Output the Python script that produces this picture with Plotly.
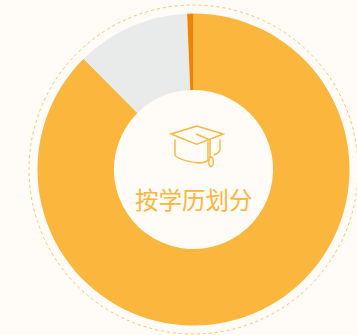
import plotly.graph_objects as go

W, H = 357, 335
categories = ["A", "B", "C"]
values = [87.55, 11.8, 0.65]
colors = ["#FAB63D", "#E9EBEB", "#F08300"]
center_label = "按学历划分"
BG = "#FFFBF6"
CX, CY, R = 193.5, 169.5, 156

fig = go.Figure(go.Pie(
    labels=categories, values=values, hole=0.51, sort=False, direction="clockwise",
    rotation=0, textinfo="none", hoverinfo="label+percent", showlegend=False,
    marker=dict(colors=colors, line=dict(width=0)),
    domain=dict(x=[(CX - R) / W, (CX + R) / W], y=[1 - (CY + R) / H, 1 - (CY - R) / H]),
))

icon = dict(type="path", xref="x", yref="y", line=dict(color="#FAB63D", width=1.4))
paths = [
    "M171,134 L196.7,126 L223.3,134 L196.7,144.3 Z",
    "M175,139.5 L175,155 Q178,160 198,163 Q205,163 208,160 L208,141.5",
    "M196,134 L210,140 L210,158",
    "M211,157 C214,157 214,166.5 211,166.5 C208,166.5 208,157 211,157 Z",
    "M220,139.5 L220,150 Q219,153 214,155",
]
shapes = [dict(icon, path=p) for p in paths]
shapes.append(dict(type="circle", xref="x", yref="y", x0=CX - 164.5, x1=CX + 164.5,
                   y0=CY - 164.5, y1=CY + 164.5,
                   line=dict(color="#FBC468", width=1, dash="dot")))

fig.update_layout(
    width=W, height=H, margin=dict(l=0, r=0, t=0, b=0),
    paper_bgcolor=BG, plot_bgcolor="rgba(0,0,0,0)",
    xaxis=dict(range=[0, W], visible=False, fixedrange=True),
    yaxis=dict(range=[H, 0], visible=False, fixedrange=True),
    shapes=shapes,
    annotations=[dict(x=194, y=199, xref="x", yref="y", text=center_label, showarrow=False,
                      font=dict(family="Noto Sans CJK SC", size=23.5, color="#FAB63D"))],
)
fig.write_html("out.html", config=dict(displayModeBar=False),
               post_script="document.body.style.margin='0';document.body.style.overflow='hidden';document.body.style.background='" + BG + "';")
